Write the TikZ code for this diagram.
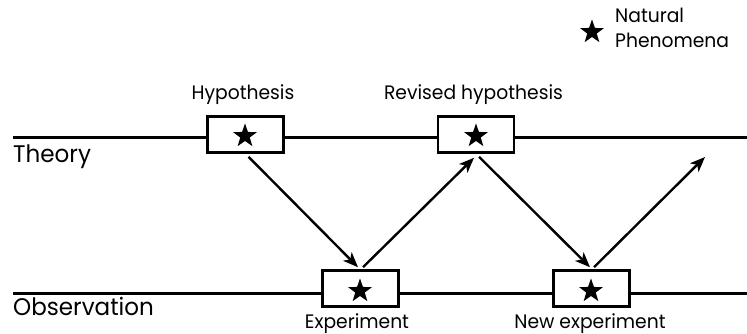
\documentclass[tikz,border=0pt]{standalone}
\usepackage{fontspec}
\setmainfont{Poppins}[FakeStretch=0.96]
\usetikzlibrary{shapes.geometric,arrows.meta}
\begin{document}
\begin{tikzpicture}[x=1pt,y=-1pt,
  axisline/.style={line width=3pt},
  phenbox/.style={draw,line width=2.6pt,fill=white,minimum width=76pt,minimum height=36pt,inner sep=0pt},
  starmark/.style={star,star points=5,star point ratio=2.5,fill=black,draw=none,minimum size=25pt,inner sep=0pt},
  arr/.style={line width=2.4pt,-{Stealth[length=15pt,width=12pt,inset=4pt]}},
  lbl/.style={font=\fontsize{19.5}{22}\selectfont,anchor=base,inner sep=0pt},
  axislbl/.style={font=\fontsize{24}{26}\selectfont,anchor=base west,inner sep=0pt}
]
\useasboundingbox (0,0) rectangle (747,334);

% the two levels
\coordinate (thL) at (13,138);
\coordinate (thR) at (747,138);
\coordinate (obL) at (13,293);
\coordinate (obR) at (747,293);
\draw[axisline] (thL) -- (thR);
\draw[axisline] (obL) -- (obR);
\node[axislbl] (theory) at (13,162) {Theory};
\node[axislbl] (observation) at (13,315) {Observation};

% phenomena boxes
\node[phenbox] (hyp) at (245.5,134.5) {};
\node[phenbox] (rev) at (476,134.5) {};
\node[phenbox] (exp) at (360.5,288.5) {};
\node[phenbox] (nexp) at (591.5,288.5) {};
\node[starmark] (s1) at (245,136) {};
\node[starmark] (s2) at (476,136) {};
\node[starmark] (s3) at (360,291) {};
\node[starmark] (s4) at (591,291) {};

% captions
\node[lbl] (hyplbl) at (243,100) {Hypothesis};
\node[lbl] (revlbl) at (473.5,100) {Revised hypothesis};
\node[lbl] (explbl) at (357,328) {Experiment};
\node[lbl] (nexplbl) at (590,328) {New experiment};

% cycle of arrows
\coordinate (next) at (705,157);
\draw[arr] ([xshift=3pt,yshift=-3pt]hyp.south) -- ([xshift=-2.5pt,yshift=2pt]exp.north);
\draw[arr] ([xshift=2.5pt,yshift=2pt]exp.north) -- ([xshift=-2pt,yshift=-4pt]rev.south);
\draw[arr] ([xshift=3pt,yshift=-3pt]rev.south) -- ([xshift=-1.5pt,yshift=2pt]nexp.north);
\draw[arr] ([xshift=2.5pt,yshift=2pt]nexp.north) -- (next);

% legend
\node[starmark] (legstar) at (592,32) {};
\node[lbl,anchor=base west] (leg1) at (615,23) {Natural};
\node[lbl,anchor=base west] (leg2) at (615,48) {Phenomena};
\end{tikzpicture}
\end{document}
